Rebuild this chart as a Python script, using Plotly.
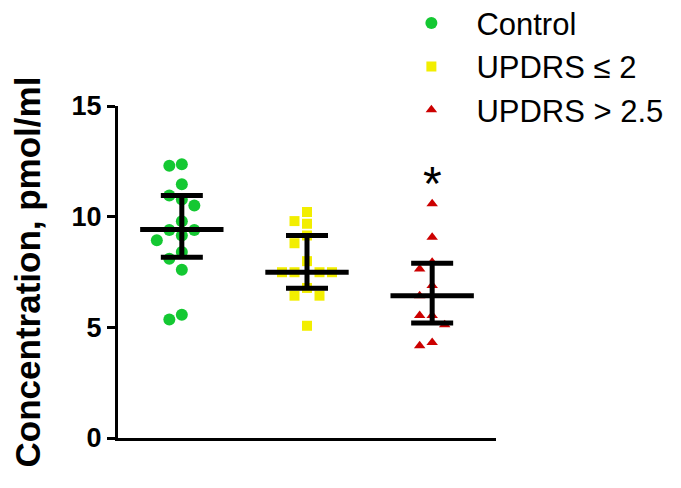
import plotly.graph_objects as go

# ---- data ----
groups = ["Control", "UPDRS \u2264 2", "UPDRS > 2.5"]
control = [12.37, 12.30, 11.46, 10.96, 10.77, 10.50, 9.79, 9.40, 9.40, 9.15, 8.93, 8.40, 8.10, 7.60, 5.57, 5.35]
updrs_low = [10.21, 9.80, 9.68, 9.15, 8.80, 7.99, 7.49, 7.49, 7.49, 7.49, 6.78, 6.43, 6.43, 5.07]
updrs_high = [10.58, 9.07, 7.94, 7.64, 6.89, 6.43, 5.53, 5.53, 5.12, 4.32, 4.17]
centre = [9.42, 7.49, 6.43]
upper = [10.96, 9.15, 7.90]
lower = [8.17, 6.77, 5.20]
y_ticks = [0, 5, 10, 15]
sig_marks = ["", "", "*"]
sig_y = [None, None, 11.5]

series = [control, updrs_low, updrs_high]
colors = ["#14c832", "#f2ee00", "#cc0000"]
symbols = ["circle", "square", "triangle-up"]
sizes = [12, 10, 10]

X_RANGE = [-0.51, 2.51]
Y_RANGE = [0, 15]
PX_X = 378 / (X_RANGE[1] - X_RANGE[0])
PX_Y = 332 / (Y_RANGE[1] - Y_RANGE[0])


def beeswarm(values, step_px=12.5, diam_px=11.5):
    placed = []
    offsets = [0.0] * len(values)
    order = sorted(range(len(values)), key=lambda i: -values[i])
    for i in order:
        vy = values[i] * PX_Y
        k = 0
        while True:
            cand = [0] if k == 0 else [-k, k]
            ok_off = None
            for c in cand:
                ox = c * step_px
                if all(((ox - px) ** 2 + (vy - py) ** 2) ** 0.5 >= diam_px for px, py in placed):
                    ok_off = ox
                    break
            if ok_off is not None:
                placed.append((ok_off, vy))
                offsets[i] = ok_off / PX_X
                break
            k += 1
    return offsets


fig = go.Figure()
for gi, vals in enumerate(series):
    offs = beeswarm(vals)
    fig.add_trace(go.Scatter(
        x=[gi + o for o in offs], y=vals, mode="markers", name=groups[gi],
        marker=dict(color=colors[gi], symbol=symbols[gi], size=sizes[gi], line=dict(width=0)),
    ))

for gi in range(len(groups)):
    fig.add_trace(go.Scatter(
        x=[gi], y=[centre[gi]], mode="markers", showlegend=False, hoverinfo="skip",
        marker=dict(size=1, color="black", opacity=0),
        error_y=dict(type="data", symmetric=False,
                     array=[upper[gi] - centre[gi]], arrayminus=[centre[gi] - lower[gi]],
                     thickness=5, width=21, color="black"),
    ))
    fig.add_trace(go.Scatter(
        x=[gi - 0.333, gi + 0.333], y=[centre[gi], centre[gi]], mode="lines",
        showlegend=False, hoverinfo="skip", line=dict(color="black", width=5),
    ))
    if sig_marks[gi]:
        fig.add_annotation(x=gi, y=sig_y[gi], text=sig_marks[gi], showarrow=False,
                           font=dict(size=48, color="black", family="Liberation Sans"),
                           yanchor="middle")

fig.update_layout(
    width=681, height=488,
    margin=dict(l=110, r=193, t=98, b=58, autoexpand=False),
    paper_bgcolor="white", plot_bgcolor="white",
    font=dict(family="Liberation Sans", color="black"),
    showlegend=True,
    legend=dict(x=0.71, y=1.33, xanchor="left", yanchor="top",
                font=dict(size=31, family="Liberation Sans", color="black"),
                tracegroupgap=0, itemwidth=80, bgcolor="rgba(0,0,0,0)"),
    xaxis=dict(range=X_RANGE, showgrid=False, zeroline=False, showticklabels=False,
               showline=True, linecolor="black", linewidth=3, ticks=""),
    yaxis=dict(range=Y_RANGE, showgrid=False, zeroline=False, tickvals=y_ticks,
               showline=True, linecolor="black", linewidth=3, ticks="outside",
               ticklen=8, tickwidth=3, tickcolor="black",
               tickfont=dict(size=27, family="Liberation Sans", color="black", weight="bold"),
               title=dict(text="Concentration, pmol/ml", standoff=31,
                          font=dict(size=35, family="Liberation Sans", color="black", weight="bold"))),
)

fig.write_html("out.html")
